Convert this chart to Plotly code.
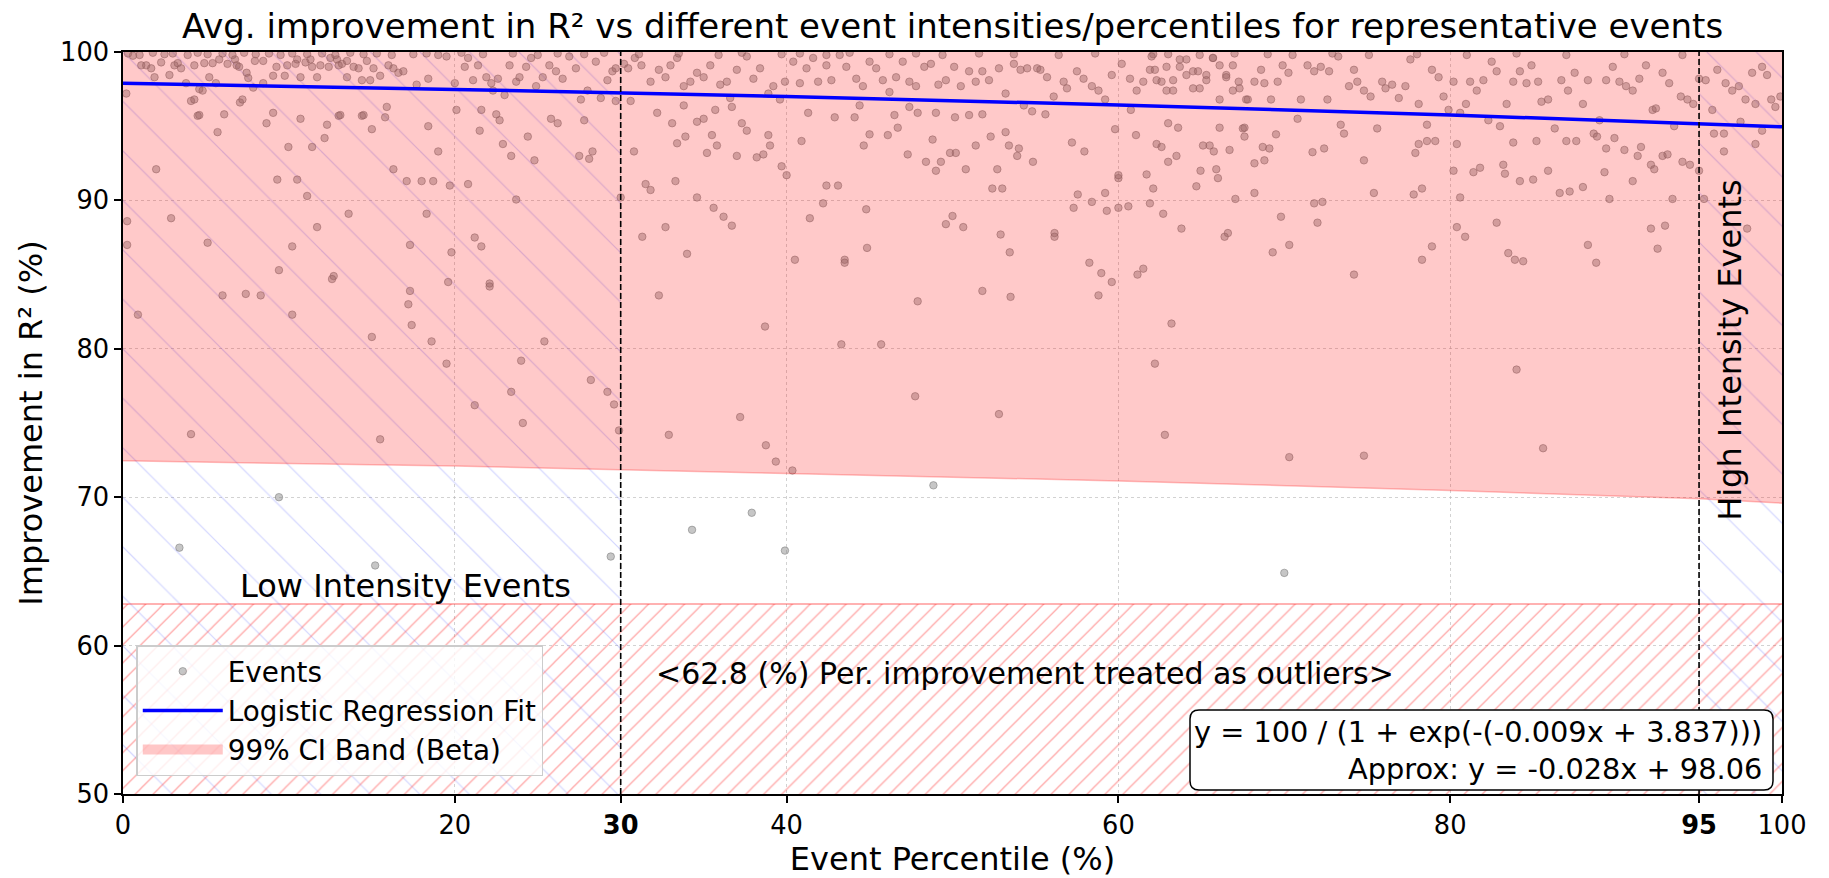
import plotly.graph_objects as go

# ---------------- data ----------------
# Events: (event percentile %, improvement in R2 %)
events_dense_0_17 = [
    (0.2, 97.2), (0.6, 99.75), (1.1, 99.1), (1.4, 99.1), (1.7, 98.9), (1.9, 98.3), (2.3, 99.3), (2.8, 98.45),
    (3.1, 99.1), (3.3, 99.25), (3.5, 98.9), (3.8, 97.9), (4.1, 96.7), (4.3, 96.8), (4.6, 97.5), (4.8, 97.4),
    (4.3, 99.1), (4.9, 99.25), (5.2, 98.3), (5.4, 99.25), (5.6, 97.9), (5.8, 99.5), (6.3, 99.2), (6.75, 99.5),
    (6.85, 99.1), (7.0, 99.0), (7.05, 96.6), (7.2, 96.8), (7.45, 98.6), (7.55, 98.25), (7.85, 97.6), (7.95, 99.4),
    (8.45, 99.4), (8.45, 97.9), (9.05, 98.4), (9.25, 99.0), (9.75, 98.4), (9.9, 99.1), (0.3, 99.9), (1.0, 99.8),
    (1.8, 99.95), (2.5, 99.85), (3.0, 99.9), (3.9, 99.8), (4.5, 99.95), (5.1, 99.85), (6.0, 99.9), (6.6, 99.8),
    (7.3, 99.95), (8.0, 99.85), (8.8, 99.9), (9.5, 99.8), (4.5, 95.7),
    (10.4, 99.2), (10.5, 99.5), (10.7, 98.3), (11.0, 99.3), (11.3, 99.5), (11.4, 99.0), (11.7, 98.3), (11.9, 99.1),
    (12.4, 99.0), (12.5, 99.6), (12.9, 99.5), (13.0, 99.1), (13.2, 99.2), (13.5, 98.3), (13.5, 99.4), (13.9, 99.0),
    (14.2, 98.9), (14.4, 98.1), (14.7, 99.4), (14.9, 98.1), (15.1, 98.9), (15.5, 98.4), (16.0, 99.1), (16.3, 98.9),
    (16.6, 98.6), (10.2, 99.9), (11.1, 99.85), (12.0, 99.9), (12.8, 99.8), (13.7, 99.95), (14.5, 99.85),
    (15.3, 99.9), (16.2, 99.8), (13.0, 95.7), (14.4, 95.7),
]
events_dense_17_30 = [
    (16.9, 98.7), (17.7, 97.8), (18.4, 98.2), (19.5, 99.7), (20.0, 97.9), (20.6, 99.0), (20.8, 99.6), (21.1, 98.1),
    (21.4, 99.1), (21.9, 98.3), (22.2, 97.9), (22.3, 97.4), (22.6, 98.2), (23.0, 97.1), (23.3, 99.1), (23.7, 98.0),
    (23.9, 98.3), (24.3, 99.0), (24.6, 99.6), (24.9, 97.7), (25.3, 98.3), (25.7, 99.1), (26.1, 98.7), (26.5, 98.2),
    (26.9, 99.7), (27.3, 98.9), (27.6, 96.8), (28.0, 97.4), (28.5, 99.35), (28.8, 96.9), (29.2, 98.1), (29.5, 98.7),
    (29.7, 98.9), (17.5, 99.85), (18.3, 99.9), (19.0, 99.8), (20.4, 99.95), (21.7, 99.85), (23.5, 99.9),
    (25.0, 99.8), (26.2, 99.9), (27.8, 99.85), (29.0, 99.95),
]
events_dense_30_68 = [
    (30.2, 99.2), (30.45, 98.9), (30.85, 99.6), (31.25, 99.1), (31.8, 98.0), (32.3, 98.8), (32.7, 98.3), (33.0, 99.1),
    (33.4, 99.6), (33.8, 97.7), (34.2, 98.0), (34.6, 98.6), (35.0, 98.3), (35.4, 99.1), (36.0, 97.8), (36.4, 98.0),
    (36.6, 96.9), (37.0, 98.8), (37.6, 99.7), (38.0, 98.2), (38.4, 98.9), (38.9, 97.2), (39.2, 97.7), (39.6, 96.8),
    (39.9, 98.0), (40.4, 99.35), (40.8, 97.9), (41.2, 98.9), (41.6, 99.6), (41.9, 98.0), (42.4, 99.1), (42.7, 98.1),
    (43.2, 99.8), (43.6, 99.0), (44.2, 98.2), (44.6, 97.7), (45.0, 99.35), (45.4, 98.9), (45.8, 98.1), (46.2, 97.3),
    (46.6, 98.3), (47.0, 99.35), (47.4, 98.0), (47.8, 97.7), (48.3, 99.0), (48.7, 99.2), (49.15, 97.8), (49.6, 98.1),
    (50.1, 99.0), (50.5, 97.7), (51.0, 98.7), (51.4, 98.0), (51.8, 98.7), (52.2, 98.1), (52.8, 98.9), (53.2, 97.2),
    (53.7, 99.2), (54.1, 98.8), (54.5, 98.9), (55.1, 98.9), (55.3, 98.8), (55.7, 98.3), (56.1, 97.0), (56.7, 98.0),
    (56.9, 97.55), (57.5, 98.7), (57.9, 98.2), (58.4, 97.7), (58.8, 97.4), (59.2, 96.8), (59.6, 98.45), (60.2, 99.2),
    (60.7, 98.2), (61.1, 97.4), (61.5, 98.0), (61.9, 98.8), (62.3, 98.1), (62.9, 97.4), (63.3, 98.1), (63.7, 99.0),
    (64.1, 99.5), (64.5, 98.7), (64.9, 97.55), (65.3, 98.45), (65.7, 99.6), (66.1, 99.1), (66.5, 98.45), (66.9, 99.1),
    (67.3, 97.55), (67.7, 96.8),
    (31.1, 99.85), (33.5, 99.9), (35.9, 99.8), (37.3, 99.95), (39.7, 99.85), (40.8, 99.9), (42.4, 99.8),
    (43.8, 99.95), (46.2, 99.85), (47.8, 99.9), (49.4, 99.8), (51.6, 99.9), (53.7, 99.85), (56.4, 99.8),
    (58.6, 99.9), (62.1, 99.85),
]
events_dense_62_100 = [
    (62.0, 99.7), (62.2, 98.8), (62.6, 98.0), (62.9, 99.0), (63.3, 97.4), (63.7, 99.5), (64.1, 98.45), (64.5, 97.55),
    (64.8, 98.7), (65.3, 98.1), (65.7, 99.6), (66.1, 96.8), (66.5, 98.3), (66.9, 97.4), (67.25, 98.0), (67.5, 94.85),
    (67.8, 96.8), (68.2, 98.0), (68.6, 98.8), (68.8, 97.9), (69.2, 96.8), (69.6, 98.0), (69.9, 99.1), (70.25, 98.6),
    (70.8, 95.5), (71.0, 96.8), (71.4, 99.1), (71.8, 98.7), (72.2, 99.0), (72.6, 96.8), (72.7, 98.7), (73.25, 99.7),
    (73.4, 95.1), (73.6, 94.5), (73.9, 97.7), (74.2, 98.8), (74.4, 98.0), (74.8, 97.4), (75.2, 97.0), (75.6, 94.85),
    (75.9, 98.0), (76.1, 97.55), (76.5, 97.8), (76.9, 96.9), (77.3, 97.7), (77.6, 99.5), (78.1, 96.5), (78.6, 95.1),
    (78.9, 98.8), (79.3, 98.3), (79.6, 97.0), (79.9, 96.1), (80.2, 98.0), (80.6, 95.9), (80.95, 96.5), (81.2, 98.0),
    (81.6, 97.4), (82.0, 98.1), (82.3, 95.4), (82.5, 99.35), (82.8, 98.7), (83.0, 95.0), (83.4, 96.5), (83.8, 98.0),
    (84.2, 98.7), (84.6, 97.9), (84.9, 99.1), (85.3, 98.0), (85.5, 96.65), (85.9, 96.8), (86.3, 94.85), (86.7, 98.1),
    (87.1, 97.4), (87.5, 98.6), (88.0, 96.5), (88.3, 98.1), (88.65, 94.5), (89.0, 95.4), (89.4, 98.1), (89.8, 99.0),
    (90.2, 98.0), (90.6, 97.7), (91.0, 97.4), (91.4, 98.2), (91.8, 99.1), (92.2, 96.1), (92.4, 96.2), (92.8, 98.6),
    (93.2, 97.9), (93.5, 95.0), (93.9, 97.0), (94.3, 96.8), (94.65, 96.5), (95.0, 98.2), (95.4, 98.1), (95.8, 96.1),
    (96.1, 98.8), (96.6, 97.9), (97.0, 97.4), (97.4, 97.7), (97.8, 96.8), (98.2, 98.6), (98.4, 96.5), (98.8, 99.0),
    (99.1, 98.45), (99.35, 96.8), (99.6, 96.3), (99.9, 97.0),
    (63.0, 99.85), (64.9, 99.8), (67.0, 99.9), (69.0, 99.85), (70.5, 99.8), (72.9, 99.9), (75.1, 99.8),
    (78.0, 99.85), (81.0, 99.8), (84.0, 99.9), (87.0, 99.8), (90.5, 99.85), (94.0, 99.8),
]
events_sparse_0_30 = [
    (0.25, 88.6), (0.25, 87.0), (2.0, 92.1), (2.9, 88.8), (5.1, 87.15), (5.7, 94.6), (4.6, 95.75), (6.1, 95.8),
    (9.05, 95.9), (8.65, 95.2), (9.97, 93.6), (10.7, 95.5), (11.4, 93.6), (12.15, 94.2), (12.3, 95.1), (13.1, 95.75),
    (14.5, 95.75), (15.0, 94.8), (15.8, 95.6), (15.9, 96.3), (18.4, 95.0), (19.0, 93.3), (20.1, 96.1), (21.6, 96.1),
    (21.5, 94.7), (22.5, 95.8), (22.7, 95.4), (22.9, 93.8), (23.4, 93.0), (24.4, 94.3), (24.8, 92.7), (25.8, 95.5),
    (26.2, 95.2), (27.5, 93.0), (28.1, 92.8), (28.3, 93.3), (27.8, 95.4), (29.7, 96.7), (30.6, 96.7), (30.0, 90.2),
    (9.3, 91.4), (10.5, 91.4), (11.1, 90.3), (11.7, 88.2), (13.6, 89.1), (10.2, 86.9), (9.4, 85.3), (12.7, 84.9),
    (16.3, 92.1), (17.1, 91.3), (18.0, 91.3), (18.7, 91.3), (19.7, 91.0), (20.8, 91.1), (18.3, 89.1), (23.7, 90.06),
    (17.3, 87.0), (19.8, 86.5), (21.2, 87.5), (21.6, 86.9), (22.1, 84.4), (17.3, 83.9), (6.0, 83.6), (7.4, 83.7),
    (0.9, 82.3), (4.1, 74.25), (8.3, 83.6), (10.2, 82.3), (12.6, 84.7), (15.0, 80.8), (15.5, 73.9), (17.2, 83.0),
    (17.4, 81.6), (18.6, 80.5), (19.5, 79.0), (19.6, 84.5), (21.2, 76.2), (22.1, 84.2), (23.4, 77.1), (24.1, 75.0),
    (25.4, 80.5), (24.0, 79.2), (3.4, 66.6), (9.4, 70.0), (15.2, 65.4),
]
events_sparse_30_68 = [
    (30.8, 93.3), (32.2, 95.9), (33.1, 95.2), (33.8, 96.4), (33.4, 93.85), (33.9, 94.3), (34.6, 95.3), (35.0, 95.5),
    (35.2, 93.2), (35.5, 94.4), (35.8, 93.7), (35.7, 96.1), (36.7, 96.3), (37.0, 93.0), (37.3, 95.2), (37.6, 94.7),
    (38.2, 92.9), (38.6, 93.1), (38.9, 94.4), (39.0, 93.7), (39.7, 92.3), (40.0, 91.7), (40.9, 94.0), (41.3, 95.9),
    (31.5, 91.1), (31.8, 90.7), (33.3, 91.3), (31.3, 87.55), (32.7, 88.2), (34.0, 86.4), (34.6, 90.2), (35.6, 89.5),
    (36.2, 88.9), (36.7, 88.3), (32.3, 83.6), (40.5, 86.0), (41.4, 88.8), (42.2, 89.8), (42.4, 91.0), (43.1, 91.0),
    (43.5, 86.0), (43.5, 85.8), (42.9, 95.6), (44.1, 95.6), (44.4, 96.4), (44.65, 93.7), (44.8, 89.4), (44.85, 86.8),
    (45.0, 94.45), (46.1, 94.4), (46.5, 95.75), (46.7, 94.9), (47.3, 93.1), (47.4, 96.3), (47.9, 95.9), (48.4, 92.6),
    (48.8, 94.1), (49.0, 92.0), (49.3, 92.6), (49.0, 95.9), (49.85, 93.2), (50.2, 93.2), (50.15, 95.6), (51.0, 95.75),
    (50.8, 92.1), (51.4, 93.7), (51.8, 95.8), (52.3, 94.3), (52.7, 92.1), (52.4, 90.8), (53.0, 90.8), (49.6, 88.4),
    (50.0, 88.95), (50.65, 88.2), (52.9, 87.7), (53.45, 86.5), (51.8, 83.9), (53.5, 83.5), (53.2, 94.6), (53.4, 93.7),
    (54.0, 93.5), (53.9, 93.0), (54.85, 92.6), (54.3, 96.4), (54.8, 96.0), (55.6, 95.8), (56.15, 87.8), (56.15, 87.55),
    (57.2, 93.9), (57.95, 93.3), (57.55, 90.4), (57.3, 89.5), (58.4, 89.9), (59.2, 90.5), (59.3, 89.3), (58.25, 85.8),
    (58.97, 85.1), (59.6, 84.5), (58.8, 83.6), (59.8, 94.8), (60.0, 91.5), (60.0, 91.7), (60.0, 89.5), (60.6, 89.6),
    (60.75, 96.1), (61.06, 94.4), (61.15, 85.0), (61.5, 85.4), (61.7, 91.75), (61.9, 89.8), (62.1, 90.8), (62.3, 93.8),
    (62.6, 93.6), (62.7, 89.1), (63.0, 92.6), (63.0, 95.2), (63.5, 93.0), (63.6, 94.9), (63.8, 88.1), (64.7, 90.95),
    (64.95, 92.0), (65.1, 93.7), (65.5, 93.7), (65.75, 93.3), (65.9, 92.1), (66.0, 91.5), (66.1, 94.9), (66.4, 87.55),
    (66.6, 87.8), (66.7, 93.4), (67.05, 90.1), (67.6, 94.3), (67.6, 94.9),
    (28.2, 77.9), (29.2, 77.1), (29.6, 76.25), (29.9, 74.5), (29.4, 66.0), (32.9, 74.2), (34.3, 67.8), (37.2, 75.4),
    (37.9, 68.95), (38.7, 81.5), (38.75, 73.5), (39.35, 72.4), (39.9, 66.4), (40.35, 71.8), (43.3, 80.3),
    (45.7, 80.3), (47.75, 76.8), (47.9, 83.2), (48.85, 70.8), (52.8, 75.6), (62.2, 79.0), (62.8, 74.2), (63.2, 81.7),
]
events_sparse_68_100 = [
    (68.2, 90.5), (69.3, 86.5), (69.8, 88.9), (70.3, 87.0), (71.8, 89.8), (72.3, 89.9), (72.0, 88.5), (68.2, 92.5),
    (68.8, 92.7), (68.7, 93.6), (69.1, 93.5), (69.5, 94.45), (71.7, 93.25), (72.4, 93.5), (74.2, 85.0), (74.8, 92.7),
    (75.4, 90.5), (77.8, 90.4), (78.3, 90.8), (77.9, 93.2), (78.1, 93.8), (78.6, 94.0), (79.1, 94.0), (78.3, 86.0),
    (78.9, 86.9), (80.2, 92.0), (80.6, 90.2), (80.4, 93.8), (80.4, 88.2), (80.9, 87.55), (81.4, 91.9), (81.8, 92.2),
    (82.8, 88.5), (83.2, 92.4), (83.3, 91.8), (83.5, 86.45), (83.9, 86.0), (84.4, 85.9), (83.8, 93.9), (84.2, 91.3),
    (85.0, 91.4), (85.2, 94.0), (85.9, 92.0), (86.6, 90.5), (87.2, 90.6), (87.0, 94.0), (87.6, 94.0), (88.0, 90.9),
    (88.3, 87.0), (88.8, 85.8), (88.85, 94.3), (89.3, 91.9), (89.6, 90.1), (89.4, 93.5), (89.9, 94.2), (90.5, 93.4),
    (91.0, 91.3), (91.3, 93.0), (91.5, 93.6), (92.1, 88.1), (92.5, 86.75), (92.95, 88.3), (93.4, 90.1), (92.8, 93.0),
    (93.1, 93.1), (92.1, 92.4), (92.3, 92.1), (94.0, 92.6), (94.45, 92.4), (95.0, 92.0), (95.3, 90.1), (95.9, 94.5),
    (96.5, 94.5), (96.5, 93.3), (97.9, 88.1), (98.4, 93.8), (98.8, 94.7), (97.5, 95.3),
    (70.0, 64.9), (70.3, 72.7), (74.8, 72.8), (84.0, 78.6), (85.6, 73.3),
]

# Logistic regression fit
fit_x = [0, 20, 40, 60, 80, 100]
fit_y = [97.89, 97.48, 97.00, 96.43, 95.76, 94.96]

# 99% CI band (beta)
ci_x = [0, 20, 40, 60, 80, 95, 100]
ci_lower = [72.45, 72.1, 71.6, 71.1, 70.45, 69.9, 69.6]
ci_upper = [100, 100, 100, 100, 100, 100, 100]

outlier_threshold = 62.8
low_zone = [0, 30]
high_zone = [95, 100]
y_limits = [50, 100]
x_tick_vals = [0, 20, 30, 40, 60, 80, 95, 100]
x_tick_text = ["0", "20", "<b>30</b>", "40", "60", "80", "<b>95</b>", "100"]
y_tick_vals = [50, 60, 70, 80, 90, 100]

title_text = "Avg. improvement in R² vs different event intensities/percentiles for representative events"
formula_text = "y = 100 / (1 + exp(-(-0.009x + 3.837)))<br>Approx: y = -0.028x + 98.06"

# ---------------- figure ----------------
FONT = "DejaVu Sans"
W, H = 1829, 878
M_L, M_R, M_T, M_B = 123, 47, 52, 84
PW, PH = W - M_L - M_R, H - M_T - M_B

all_events = (events_dense_0_17 + events_dense_17_30 + events_dense_30_68 + events_dense_62_100
              + events_sparse_0_30 + events_sparse_30_68 + events_sparse_68_100)
ev_x = [p[0] for p in all_events]
ev_y = [p[1] for p in all_events]

fig = go.Figure()


def zone_poly(x0, x1, y0, y1):
    return [x0, x1, x1, x0, x0], [y0, y0, y1, y1, y0]


# blue "\\" hatched zones (low / high intensity)
for zone in (low_zone, high_zone):
    px, py = zone_poly(zone[0], zone[1], y_limits[0], y_limits[1])
    fig.add_trace(go.Scatter(
        x=px, y=py, mode="lines", fill="toself", line=dict(width=0),
        fillcolor="rgba(0,0,0,0)",
        fillpattern=dict(shape="\\", fgcolor="rgb(110,120,255)", fgopacity=0.3,
                         bgcolor="rgba(0,0,0,0)", size=35, solidity=0.035),
        showlegend=False, hoverinfo="skip"))

# red "//" hatched outlier zone
px, py = zone_poly(0, 100, y_limits[0], outlier_threshold)
fig.add_trace(go.Scatter(
    x=px, y=py, mode="lines", fill="toself", line=dict(width=0),
    fillcolor="rgba(0,0,0,0)",
    fillpattern=dict(shape="/", fgcolor="rgb(255,60,60)", fgopacity=0.45,
                     bgcolor="rgba(0,0,0,0)", size=12.7, solidity=0.1),
    showlegend=False, hoverinfo="skip"))
fig.add_trace(go.Scatter(
    x=[0, 100], y=[outlier_threshold, outlier_threshold], mode="lines",
    line=dict(color="rgba(255,0,0,0.3)", width=2), showlegend=False, hoverinfo="skip"))

# events
fig.add_trace(go.Scatter(
    x=ev_x, y=ev_y, mode="markers", name="Events", legendrank=1,
    marker=dict(size=7.5, color="rgba(128,128,128,0.45)",
                line=dict(width=1, color="rgba(115,115,115,0.5)"))))

# CI band
fig.add_trace(go.Scatter(
    x=ci_x, y=ci_upper, mode="lines", line=dict(width=0), showlegend=False, hoverinfo="skip"))
fig.add_trace(go.Scatter(
    x=ci_x, y=ci_lower, mode="lines", fill="tonexty", name="99% CI Band (Beta)", showlegend=False,
    fillcolor="rgba(255,0,0,0.21)", line=dict(color="rgba(255,0,0,0.25)", width=1.5)))
# legend swatch for the CI band (a wide patch, like the reference legend)
fig.add_trace(go.Scatter(
    x=[None], y=[None], mode="lines", name="99% CI Band (Beta)", legendrank=3,
    line=dict(color="rgba(255,0,0,0.22)", width=20)))

# logistic fit
fig.add_trace(go.Scatter(
    x=fit_x, y=fit_y, mode="lines", name="Logistic Regression Fit", legendrank=2,
    line=dict(color="rgb(0,0,255)", width=3.5)))

# dashed zone boundaries
for xv in (low_zone[1], high_zone[0]):
    fig.add_shape(type="line", xref="x", yref="y", x0=xv, x1=xv, y0=y_limits[0], y1=y_limits[1],
                  line=dict(color="black", width=1.6, dash="6px,3px"), layer="above")

# rounded box behind the formula text (paper coordinates)
bx0, bx1 = (1190 - M_L) / PW, (1773 - M_L) / PW
by0, by1 = (H - M_B - 790) / PH, (H - M_B - 710) / PH
rx, ry = 9 / PW, 9 / PH
box_path = (f"M {bx0 + rx},{by0} L {bx1 - rx},{by0} Q {bx1},{by0} {bx1},{by0 + ry} "
            f"L {bx1},{by1 - ry} Q {bx1},{by1} {bx1 - rx},{by1} L {bx0 + rx},{by1} "
            f"Q {bx0},{by1} {bx0},{by1 - ry} L {bx0},{by0 + ry} Q {bx0},{by0} {bx0 + rx},{by0} Z")
fig.add_shape(type="path", xref="paper", yref="paper", path=box_path, fillcolor="white",
              line=dict(color="black", width=1.5), layer="above")
fig.add_annotation(x=bx1, y=(by0 + by1) / 2, xref="paper", yref="paper", text=formula_text,
                   showarrow=False, xanchor="right", yanchor="middle", align="right", xshift=-9,
                   font=dict(family=FONT, size=28.8, color="black"))

fig.add_annotation(x=17, y=64.0, xref="x", yref="y", text="Low Intensity Events", showarrow=False,
                   xanchor="center", yanchor="middle", font=dict(family=FONT, size=32, color="black"))
fig.add_annotation(x=96.9, y=79.9, xref="x", yref="y", text="High Intensity Events", showarrow=False,
                   textangle=-90, xanchor="center", yanchor="middle",
                   font=dict(family=FONT, size=32, color="black"))
fig.add_annotation(x=32, y=58.1, xref="x", yref="y",
                   text="<62.8 (%) Per. improvement treated as outliers>", showarrow=False,
                   xanchor="left", yanchor="middle", font=dict(family=FONT, size=30, color="black"))

axis_common = dict(
    ticks="outside", ticklen=7, tickwidth=1.5, tickcolor="black",
    showline=True, linecolor="black", linewidth=1.5, mirror=True,
    showgrid=True, gridcolor="rgba(180,180,180,0.6)", griddash="dot", gridwidth=1,
    zeroline=False, automargin=False, tickfont=dict(family=FONT, size=25.7, color="black"),
)
fig.update_xaxes(range=[0, 100], tickmode="array", tickvals=x_tick_vals, ticktext=x_tick_text,
                 title=dict(text="Event Percentile (%)", font=dict(family=FONT, size=32), standoff=10),
                 **axis_common)
fig.update_yaxes(range=y_limits, tickmode="array", tickvals=y_tick_vals,
                 title=dict(text="Improvement in R² (%)", font=dict(family=FONT, size=32), standoff=8),
                 **axis_common)

fig.update_layout(
    width=W, height=H,
    margin=dict(l=M_L, r=M_R, t=M_T, b=M_B, autoexpand=False),
    paper_bgcolor="white", plot_bgcolor="white",
    font=dict(family=FONT, color="black"),
    title=dict(text=title_text, x=0.5, xref="paper", xanchor="center",
               y=1 - 26 / H, yref="container", yanchor="middle",
               font=dict(family=FONT, size=34, color="black")),
    legend=dict(x=0.008, y=0.024, xanchor="left", yanchor="bottom", traceorder="normal",
                bgcolor="rgba(255,255,255,0.8)", bordercolor="rgb(204,204,204)", borderwidth=1.5,
                font=dict(family=FONT, size=27.8, color="black"), itemwidth=80, tracegroupgap=0),
    showlegend=True,
)

fig.write_html("out.html")
